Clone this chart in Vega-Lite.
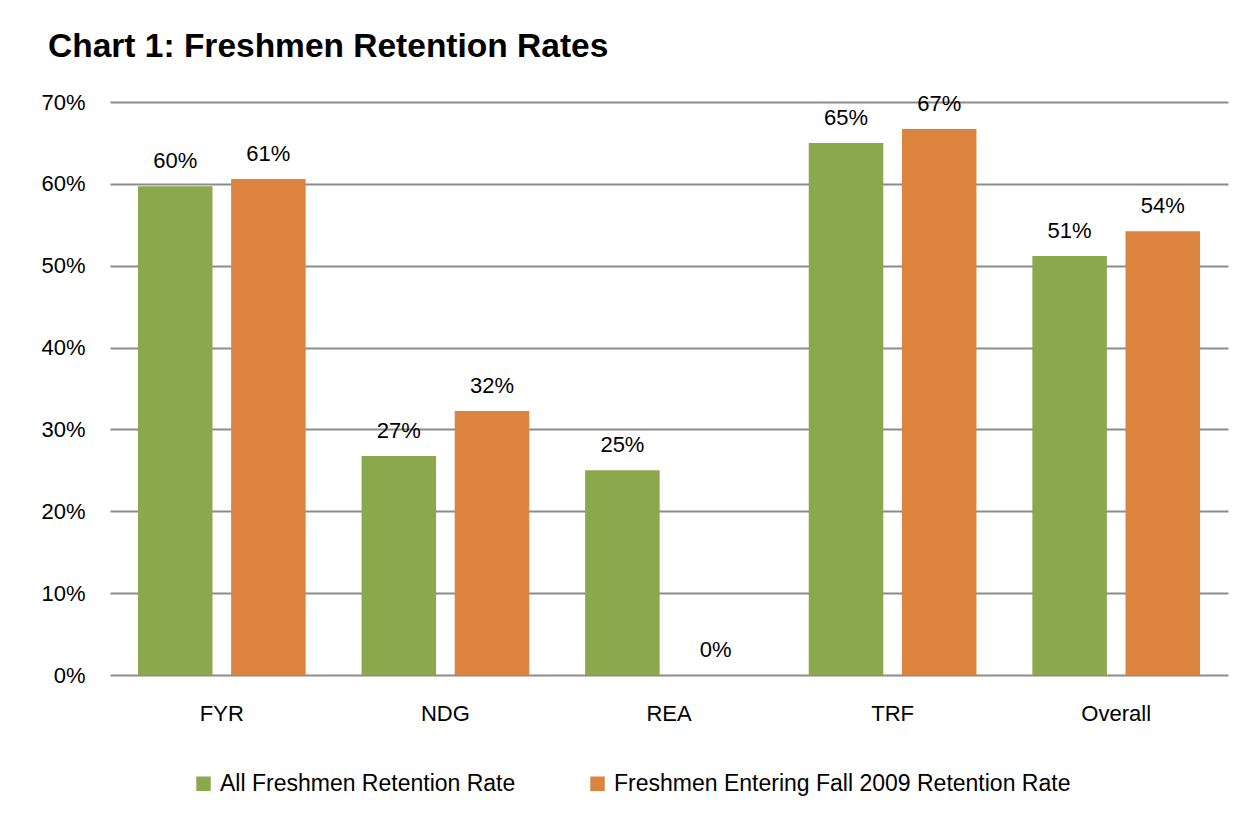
{
  "$schema": "https://vega.github.io/schema/vega-lite/v6.json",
  "width": 1118,
  "height": 573,
  "autosize": "none",
  "padding": {"left": 110, "top": 102, "right": 23, "bottom": 148},
  "background": "white",
  "title": {
    "text": "Chart 1: Freshmen Retention Rates",
    "anchor": "start",
    "frame": "group",
    "dx": -62,
    "offset": 27,
    "font": "Liberation Sans",
    "fontSize": 33.5,
    "fontWeight": "bold",
    "color": "#000000"
  },
  "data": {
    "values": [
      {"cat": "FYR", "series": "All Freshmen Retention Rate", "value": 0.597, "label": "60%"},
      {"cat": "FYR", "series": "Freshmen Entering Fall 2009 Retention Rate", "value": 0.606, "label": "61%"},
      {"cat": "NDG", "series": "All Freshmen Retention Rate", "value": 0.2675, "label": "27%"},
      {"cat": "NDG", "series": "Freshmen Entering Fall 2009 Retention Rate", "value": 0.3225, "label": "32%"},
      {"cat": "REA", "series": "All Freshmen Retention Rate", "value": 0.25, "label": "25%"},
      {"cat": "REA", "series": "Freshmen Entering Fall 2009 Retention Rate", "value": 0.0, "label": "0%"},
      {"cat": "TRF", "series": "All Freshmen Retention Rate", "value": 0.65, "label": "65%"},
      {"cat": "TRF", "series": "Freshmen Entering Fall 2009 Retention Rate", "value": 0.667, "label": "67%"},
      {"cat": "Overall", "series": "All Freshmen Retention Rate", "value": 0.512, "label": "51%"},
      {"cat": "Overall", "series": "Freshmen Entering Fall 2009 Retention Rate", "value": 0.542, "label": "54%"}
    ]
  },
  "encoding": {
    "x": {
      "field": "cat",
      "type": "nominal",
      "sort": ["FYR", "NDG", "REA", "TRF", "Overall"],
      "scale": {"paddingInner": 0.25, "paddingOuter": 0.125},
      "axis": {
        "title": null,
        "labelAngle": 0,
        "domain": false,
        "ticks": false,
        "labelPadding": 28,
        "labelFont": "Liberation Sans",
        "labelFontSize": 22,
        "labelColor": "#000000"
      }
    },
    "xOffset": {
      "field": "series",
      "type": "nominal",
      "scale": {"paddingInner": 0.2, "paddingOuter": 0}
    },
    "y": {
      "field": "value",
      "type": "quantitative",
      "scale": {"domain": [0, 0.7]},
      "axis": {
        "title": null,
        "format": ".0%",
        "values": [0, 0.1, 0.2, 0.3, 0.4, 0.5, 0.6, 0.7],
        "domain": false,
        "ticks": false,
        "labelPadding": 25,
        "labelFont": "Liberation Sans",
        "labelFontSize": 22,
        "labelColor": "#000000",
        "gridColor": "#8c8c8c",
        "gridWidth": 2
      }
    }
  },
  "layer": [
    {
      "mark": {"type": "bar"},
      "encoding": {
        "color": {
          "field": "series",
          "type": "nominal",
          "scale": {
            "domain": ["All Freshmen Retention Rate", "Freshmen Entering Fall 2009 Retention Rate"],
            "range": ["#8ba84d", "#dc843f"]
          },
          "legend": {
            "title": null,
            "orient": "none",
            "direction": "horizontal",
            "legendX": 82,
            "legendY": 670,
            "symbolType": "square",
            "symbolSize": 210,
            "symbolStrokeWidth": 0,
            "labelFont": "Liberation Sans",
            "labelFontSize": 23,
            "labelColor": "#000000",
            "labelLimit": 600,
            "columnPadding": 70,
            "labelOffset": 5
          }
        }
      }
    },
    {
      "mark": {
        "type": "text",
        "baseline": "bottom",
        "dy": -13,
        "font": "Liberation Sans",
        "fontSize": 22,
        "color": "#000000"
      },
      "encoding": {
        "text": {"field": "label"}
      }
    }
  ],
  "config": {
    "view": {"stroke": null}
  }
}
